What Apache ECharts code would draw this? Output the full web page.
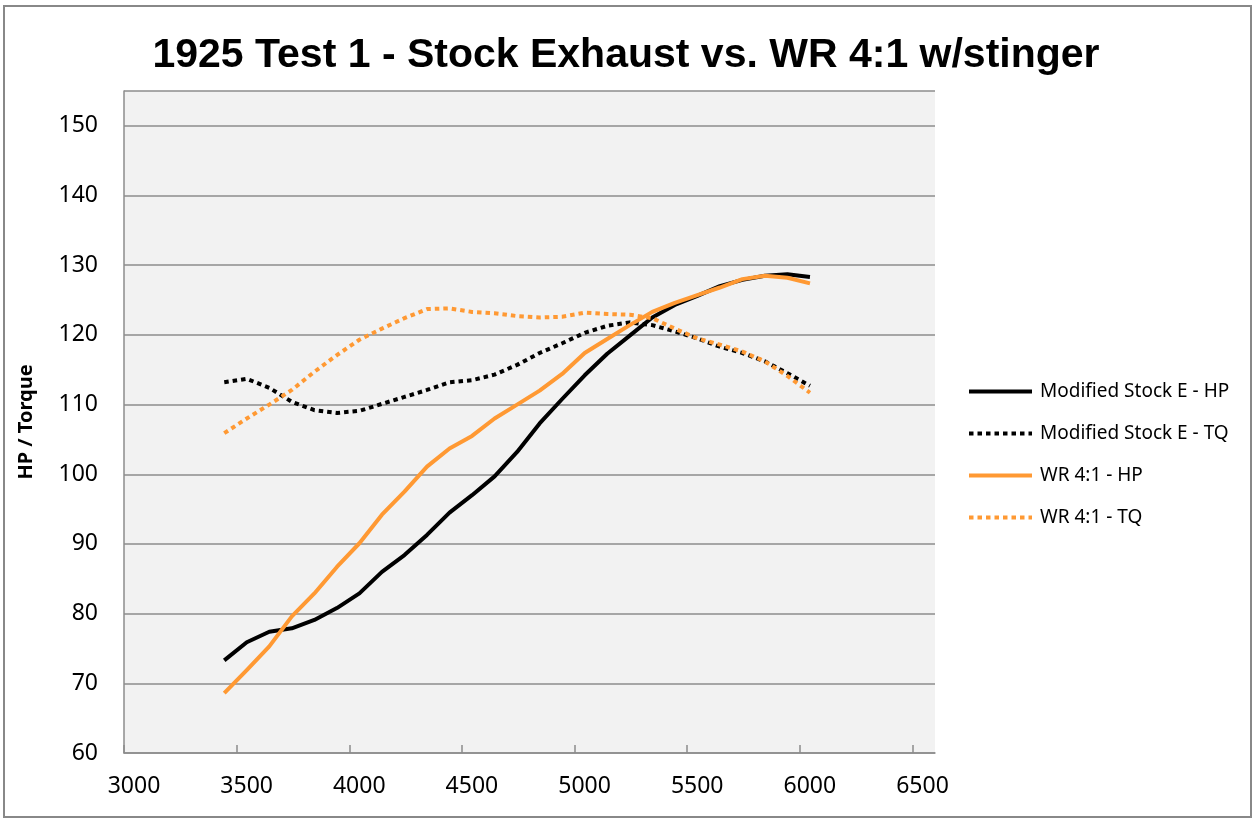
<!DOCTYPE html>
<html>
<head>
<meta charset="utf-8">
<script src="https://cdn.jsdelivr.net/npm/echarts@6/dist/echarts.min.js"></script>
<style>html,body{margin:0;padding:0;background:#fff}#c{width:1252px;height:819px}</style>
</head>
<body>
<div id="c"></div>
<script>
const rpm = [3445,3545,3645,3745,3845,3945,4045,4145,4245,4345,4445,4545,4645,4745,4845,4945,5045,5145,5245,5345,5445,5545,5645,5745,5845,5945,6045];
const stockHP = [73.3,75.9,77.4,77.9,79.1,80.8,82.9,86.0,88.4,91.3,94.5,97.0,99.7,103.2,107.3,110.8,114.2,117.3,119.9,122.5,124.3,125.6,127.0,127.9,128.5,128.7,128.3];
const stockTQ = [113.2,113.7,112.4,110.4,109.2,108.8,109.1,110.1,111.1,112.1,113.2,113.5,114.3,115.7,117.4,118.8,120.3,121.3,121.8,121.4,120.5,119.5,118.3,117.4,116.2,114.5,112.7];
const wrHP = [68.6,71.9,75.3,79.6,82.9,86.7,90.1,94.2,97.5,101.1,103.7,105.5,108.0,110.0,112.0,114.4,117.4,119.4,121.4,123.3,124.6,125.7,126.8,128.0,128.5,128.2,127.4];
const wrTQ = [105.9,108.0,110.0,112.1,114.7,117.1,119.3,120.9,122.4,123.7,123.8,123.3,123.1,122.7,122.5,122.6,123.2,123.0,122.9,122.4,120.9,119.5,118.6,117.6,116.2,114.1,111.7];
const seriesNames = ['Modified Stock E - HP','Modified Stock E - TQ','WR 4:1 - HP','WR 4:1 - TQ'];
const xTicks = [3000,3500,4000,4500,5000,5500,6000,6500];
const yTicks = [60,70,80,90,100,110,120,130,140,150];
const titleText = '1925 Test 1 - Stock Exhaust vs. WR 4:1 w/stinger';
const yName = 'HP / Torque';

const BLACK = '#000000', ORANGE = '#FF9933';
const DOT = [4.5,4];
const pair = (ys) => rpm.map((r,i)=>[r, ys[i]]);
const mk = (name, ys, color, dotted) => ({
  name, type:'line', data: pair(ys), showSymbol:false, symbol:'none', smooth:false,
  lineStyle:{color, width:4, type: dotted ? DOT : 'solid', cap:'butt', join:'round'},
  itemStyle:{color}, emphasis:{disabled:true}, animation:false
});

const chart = echarts.init(document.getElementById('c'), null, {renderer:'canvas'});
chart.setOption({
  animation:false,
  backgroundColor:'#ffffff',
  title:{text:titleText, left:'center', top:30,
    textStyle:{fontFamily:'Liberation Sans Narrow, Arial Narrow, Liberation Sans, sans-serif', fontWeight:'bold', fontSize:41, color:'#000'}},
  grid:{left:124, right:317, top:91, bottom:66, show:true, backgroundColor:'#F2F2F2', borderWidth:0},
  legend:{orient:'vertical', left:967, top:382, padding:0, itemWidth:63, itemHeight:14, itemGap:23,
    data:seriesNames, selectedMode:false,
    itemStyle:{opacity:0},
    lineStyle:{width:4},
    textStyle:{fontFamily:'Noto Sans, sans-serif', fontSize:19, color:'#000', padding:[0,0,0,3]}},
  xAxis:{type:'value', min:3000, max:6600, interval:500,
    axisLine:{show:true, lineStyle:{color:'#8c8c8c', width:1.5}},
    axisTick:{show:true, inside:true, length:8, customValues:xTicks, lineStyle:{color:'#8c8c8c', width:1.5}},
    axisLabel:{customValues:xTicks, margin:22, color:'#000', fontFamily:'Noto Sans, sans-serif', fontSize:23, padding:[0,0,0,20], formatter:(v)=>String(v)},
    splitLine:{show:false}},
  yAxis:{type:'value', min:60, max:155, interval:10,
    name:yName, nameLocation:'middle', nameGap:88, nameRotate:90,
    nameTextStyle:{fontFamily:'Noto Sans, sans-serif', fontWeight:'bold', fontSize:20, color:'#000'},
    axisLine:{show:true, lineStyle:{color:'#8c8c8c', width:1.5}},
    axisTick:{show:false},
    axisLabel:{customValues:yTicks, margin:26, color:'#000', fontFamily:'Noto Sans, sans-serif', fontSize:23, formatter:(v)=>String(v)},
    splitLine:{show:true, lineStyle:{color:'#8c8c8c', width:1.5}}},
  graphic:[{type:'rect', shape:{x:4, y:6, width:1247, height:811}, style:{fill:'none', stroke:'#888888', lineWidth:2}, silent:true, z:-1}],
  series:[
    mk(seriesNames[0], stockHP, BLACK, false),
    mk(seriesNames[1], stockTQ, BLACK, true),
    mk(seriesNames[2], wrHP, ORANGE, false),
    mk(seriesNames[3], wrTQ, ORANGE, true)
  ]
});
</script>
</body>
</html>
